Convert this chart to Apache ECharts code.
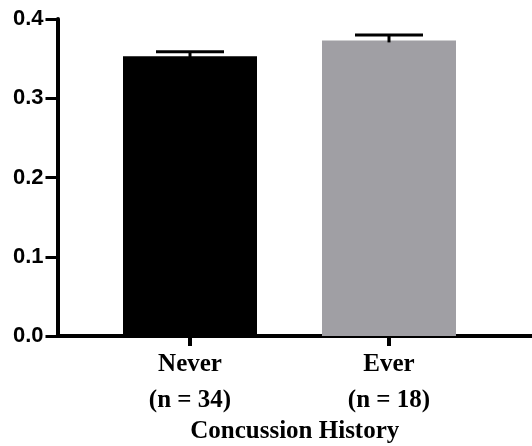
<!DOCTYPE html>
<html>
<head>
<meta charset="utf-8">
<script src="https://cdn.jsdelivr.net/npm/echarts@6/dist/echarts.min.js"></script>
<style>
html,body{margin:0;padding:0;background:#fff;}
#chart{width:532px;height:446px;}
</style>
</head>
<body>
<div id="chart"></div>
<script>
const categories = ['Never', 'Ever'];
const groupSizes = ['(n = 34)', '(n = 18)'];
const means = [0.353, 0.373];
const sems = [0.0056, 0.0068];
const barColors = ['#000000', '#a09fa4'];
const axisTitle = 'Concussion History';

const chart = echarts.init(document.getElementById('chart'), null, {renderer: 'canvas'});

const labels = categories.map((c, i) => c + '\n' + groupSizes[i]);

const option = {
  animation: false,
  backgroundColor: '#ffffff',
  grid: [
    {left: 57.5, right: 0, top: 19, bottom: 110, containLabel: false, outerBoundsMode: 'none'},
    {left: 90.5, width: 398, top: 19, bottom: 110, containLabel: false, outerBoundsMode: 'none'}
  ],
  xAxis: [
    {
      gridIndex: 0, type: 'value', min: 0, max: 1,
      axisLine: {show: true, onZero: false, lineStyle: {color: '#000', width: 4}},
      axisTick: {show: false}, axisLabel: {show: false}, splitLine: {show: false},
      name: axisTitle, nameLocation: 'middle', nameGap: 83,
      nameTextStyle: {fontFamily: 'Liberation Serif', fontWeight: 'bold', fontSize: 25, color: '#000'}
    },
    {
      gridIndex: 1, type: 'category', data: labels,
      axisLine: {show: false},
      axisTick: {show: true, alignWithLabel: true, length: 10, lineStyle: {color: '#000', width: 4}},
      axisLabel: {
        show: true, margin: 11, interval: 0,
        fontFamily: 'Liberation Serif', fontWeight: 'bold', fontSize: 25,
        lineHeight: 36, color: '#000'
      },
      splitLine: {show: false}
    }
  ],
  yAxis: [
    {
      gridIndex: 0, type: 'value', min: 0, max: 0.4, interval: 0.1,
      axisLine: {show: true, lineStyle: {color: '#000', width: 4}},
      axisTick: {show: true, length: 12, lineStyle: {color: '#000', width: 3}},
      axisLabel: {
        margin: 14, color: '#000', fontFamily: 'Liberation Sans', fontWeight: 'bold', fontSize: 22,
        formatter: v => v.toFixed(1)
      },
      splitLine: {show: false}
    },
    {
      gridIndex: 1, type: 'value', min: 0, max: 0.4, interval: 0.1, show: false,
      splitLine: {show: false}
    }
  ],
  series: [
    {
      type: 'bar', xAxisIndex: 1, yAxisIndex: 1,
      barWidth: 134,
      data: means.map((m, i) => ({value: m, itemStyle: {color: barColors[i]}})),
      z: 2
    },
    {
      type: 'custom', xAxisIndex: 1, yAxisIndex: 1, z: 3,
      data: means.map((m, i) => [i, m, m + sems[i]]),
      renderItem: function (params, api) {
        const x = api.value(0);
        const base = api.coord([x, api.value(1)]);
        const top = api.coord([x, api.value(2)]);
        const half = 34;
        return {
          type: 'group',
          children: [
            {type: 'line', shape: {x1: base[0], y1: base[1] + 2, x2: top[0], y2: top[1]},
             style: {stroke: '#000', lineWidth: 3}},
            {type: 'line', shape: {x1: top[0] - half, y1: top[1], x2: top[0] + half, y2: top[1]},
             style: {stroke: '#000', lineWidth: 3}}
          ]
        };
      }
    }
  ]
};
chart.setOption(option);
</script>
</body>
</html>
